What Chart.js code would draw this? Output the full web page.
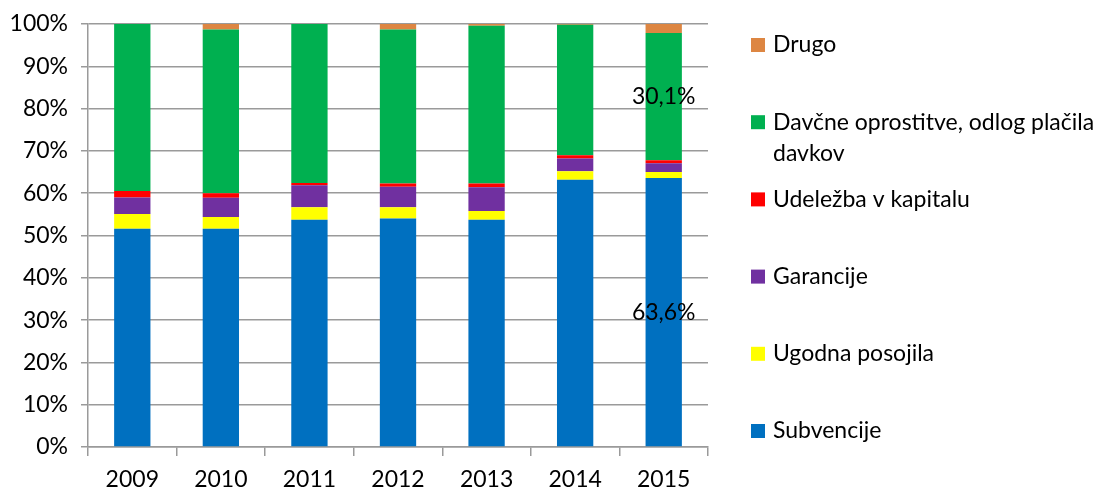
<!DOCTYPE html>
<html lang="sl">
<head>
    <meta charset="UTF-8">
    <script src="https://cdnjs.cloudflare.com/ajax/libs/Chart.js/4.4.1/chart.umd.min.js"></script>
    <title>Struktura pomoči</title>
    <style>
        body { margin: 0; background: #fff; }
    </style>
</head>
<body>
    <canvas id="bar-chart" width="1103" height="488"></canvas>

<script>

var years = ["2009", "2010", "2011", "2012", "2013", "2014", "2015"];

var subvencije = [51.6, 51.6, 53.7, 54.0, 53.7, 63.2, 63.6];
var ugodnaPosojila = [3.5, 2.8, 3.0, 2.7, 2.1, 2.0, 1.4];
var garancije = [3.9, 4.5, 5.2, 4.8, 5.6, 3.0, 2.1];
var udelezba = [1.5, 1.1, 0.5, 0.8, 0.9, 0.8, 0.7];
var davcne = [39.5, 38.7, 37.6, 36.4, 37.3, 30.8, 30.1];
var drugo = [0.0, 1.3, 0.0, 1.3, 0.4, 0.2, 2.1];

var yTicks = [0, 10, 20, 30, 40, 50, 60, 70, 80, 90, 100];

// only the 2015 bar has labels in the original
var labelled = { "Subvencije": [6], "Davčne oprostitve, odlog plačila davkov": [6] };

var FONT = "Lato";
var FS = 23;
var ctx = document.getElementById('bar-chart').getContext('2d');

function fmt(v) {
    return v.toFixed(1).replace('.', ',') + '%';
}

var legendPlugin = {
    id: 'sideLegend',
    afterDraw: function(chart) {
        var c = chart.ctx;
        var sets = chart.data.datasets;
        c.save();
        c.font = FS + 'px ' + FONT;
        c.textBaseline = 'middle';
        c.textAlign = 'left';
        for (var i = 0; i < sets.length; i++) {
            var ds = sets[sets.length - 1 - i];
            var y = 45 + i * 77.2;
            c.fillStyle = ds.backgroundColor;
            c.fillRect(751, y - 7, 14, 14);
            c.fillStyle = '#000';
            var lines = ds.legendLines || [ds.label];
            for (var j = 0; j < lines.length; j++) {
                c.fillText(lines[j], 773, y + j * 31);
            }
        }
        c.restore();
    }
};

var valuePlugin = {
    id: 'valueLabels',
    afterDatasetsDraw: function(chart) {
        var c = chart.ctx;
        c.save();
        c.font = FS + 'px ' + FONT;
        c.fillStyle = '#000';
        c.textAlign = 'center';
        c.textBaseline = 'middle';
        chart.data.datasets.forEach(function(ds, di) {
            var idx = labelled[ds.label];
            if (!idx) return;
            var meta = chart.getDatasetMeta(di);
            idx.forEach(function(i) {
                var bar = meta.data[i];
                var mid = (bar.y + bar.base) / 2;
                c.fillText(fmt(ds.data[i]), bar.x, mid);
            });
        });
        c.restore();
    }
};

var gridColor = '#9a9a9a';

var bar_chart = new Chart(ctx, {
    type: 'bar',
    data: {
        labels: years,
        datasets: [
            { label: 'Subvencije', data: subvencije, backgroundColor: '#0070C0' },
            { label: 'Ugodna posojila', data: ugodnaPosojila, backgroundColor: '#FFFF00' },
            { label: 'Garancije', data: garancije, backgroundColor: '#7030A0' },
            { label: 'Udeležba v kapitalu', data: udelezba, backgroundColor: '#FF0000' },
            { label: 'Davčne oprostitve, odlog plačila davkov', legendLines: ['Davčne oprostitve, odlog plačila', 'davkov'],
              data: davcne, backgroundColor: '#00B050' },
            { label: 'Drugo', data: drugo, backgroundColor: '#DD8642' }
        ]
    },
    options: {
        responsive: false,
        animation: false,
        layout: { padding: { left: 8, right: 395, top: 24, bottom: 0 } },
        datasets: {
            bar: { categoryPercentage: 1.0, barPercentage: 0.41, borderWidth: 0 }
        },
        plugins: {
            legend: { display: false },
            tooltip: { enabled: false }
        },
        scales: {
            x: {
                stacked: true,
                afterFit: function(scale) { scale.height = 41; scale.paddingLeft = 0; scale.paddingRight = 0; },
                border: { color: gridColor, width: 1.5 },
                grid: { offset: true, drawOnChartArea: false, color: gridColor, lineWidth: 1.5, tickLength: 9 },
                ticks: { color: '#000', font: { family: FONT, size: FS }, padding: 10, maxRotation: 0 }
            },
            y: {
                stacked: true,
                min: 0,
                max: 100,
                afterFit: function(scale) { scale.width = 80; scale.paddingTop = 0; scale.paddingBottom = 0; },
                afterBuildTicks: function(scale) {
                    scale.ticks = yTicks.map(function(v) { return { value: v }; });
                },
                border: { color: gridColor, width: 1.5 },
                grid: { color: gridColor, lineWidth: 1.5, tickLength: 7 },
                ticks: {
                    color: '#000',
                    font: { family: FONT, size: FS },
                    padding: 13,
                    callback: function(v) { return v + '%'; }
                }
            }
        }
    },
    plugins: [valuePlugin, legendPlugin]
});

</script>

</body>
</html>
